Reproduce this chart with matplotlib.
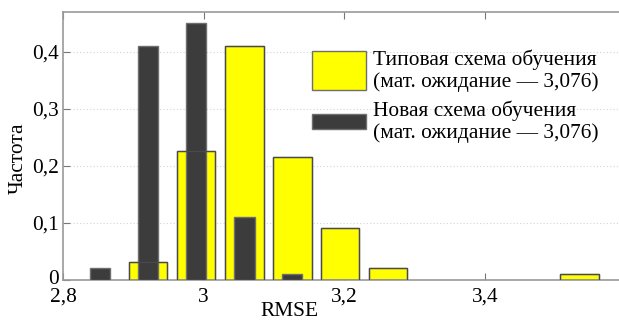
import matplotlib.pyplot as plt
from matplotlib.patches import Rectangle
from matplotlib.ticker import FuncFormatter
from matplotlib.transforms import ScaledTranslation

plt.rcParams['font.family'] = ['Liberation Serif', 'DejaVu Serif']
plt.rcParams['font.size'] = 15.4

# RMSE bin centres and frequencies
typical_x = [2.921, 2.989, 3.058, 3.126, 3.194, 3.262, 3.534]
typical_h = [0.03, 0.225, 0.41, 0.215, 0.09, 0.02, 0.01]
new_x = [2.853, 2.921, 2.989, 3.058, 3.126]
new_h = [0.02, 0.41, 0.45, 0.11, 0.01]

x_ticks = [2.8, 3.0, 3.2, 3.4]
y_ticks = [0, 0.1, 0.2, 0.3, 0.4]

labels = ["Типовая схема обучения\n(мат. ожидание — 3,076)",
          "Новая схема обучения\n(мат. ожидание — 3,076)"]

yellow = "#ffff00"
dark = "#3c3c3c"
edge = "#6e6e6e"

fig = plt.figure(figsize=(6.19, 3.20), dpi=100)
ax = fig.add_axes([63 / 619, 1 - 279.5 / 320, 1 - 63 / 619 + 0.002, (279.5 - 12) / 320])

ax.bar(typical_x, typical_h, width=0.0547, color=yellow, edgecolor=edge, linewidth=1, zorder=2)
ax.bar(new_x, new_h, width=0.0285, color=dark, edgecolor=edge, linewidth=1, zorder=3)
# outlines of the yellow bars show through the dark ones
ax.bar(typical_x, typical_h, width=0.0547, fill=False, edgecolor="#4a4a4a", linewidth=0.9, zorder=4)

ax.set_xlim(2.8, 3.592)
ax.set_ylim(0, 0.47)
ax.set_xticks(x_ticks)
ax.set_yticks(y_ticks)
fmt = FuncFormatter(lambda v, p: ("%g" % round(v, 2)).replace(".", ","))
ax.xaxis.set_major_formatter(fmt)
ax.yaxis.set_major_formatter(fmt)
ax.tick_params(direction="in", length=5, color="#777777", top=True, pad=3)
ax.tick_params(axis="x", pad=6)
# nudge the "0" label up by a couple of pixels so it clears "2,8"
lab0 = ax.get_yticklabels()[0]
lab0.set_transform(lab0.get_transform() + ScaledTranslation(0, 3 / 100, fig.dpi_scale_trans))

ax.yaxis.grid(True, linestyle=(0, (1, 2)), color="#d4d4d4", linewidth=0.8, zorder=0)
ax.set_axisbelow(True)
for side in ["left", "top", "bottom"]:
    ax.spines[side].set_color("#999999")
    ax.spines[side].set_linewidth(1.2)
ax.spines["right"].set_visible(False)

fig.text(18 / 619, 1 - 158 / 320, "Частота", rotation=90, ha="center", va="center")
fig.text(289 / 619, 1 - 311 / 320, "RMSE", ha="center", va="center")

# legend drawn by hand: patches of different heights like the original
fig.patches.append(Rectangle((312 / 619, 1 - 90 / 320), 54 / 619, 39 / 320,
                             transform=fig.transFigure, facecolor=yellow, edgecolor=edge, linewidth=1))
fig.patches.append(Rectangle((312 / 619, 1 - 129 / 320), 54 / 619, 15 / 320,
                             transform=fig.transFigure, facecolor=dark, edgecolor=edge, linewidth=1))
fig.text(373 / 619, 1 - 71 / 320, labels[0], ha="left", va="center", linespacing=1.12)
fig.text(373 / 619, 1 - 122 / 320, labels[1], ha="left", va="center", linespacing=1.12)

fig.savefig("out.png", dpi=100, facecolor="white")
